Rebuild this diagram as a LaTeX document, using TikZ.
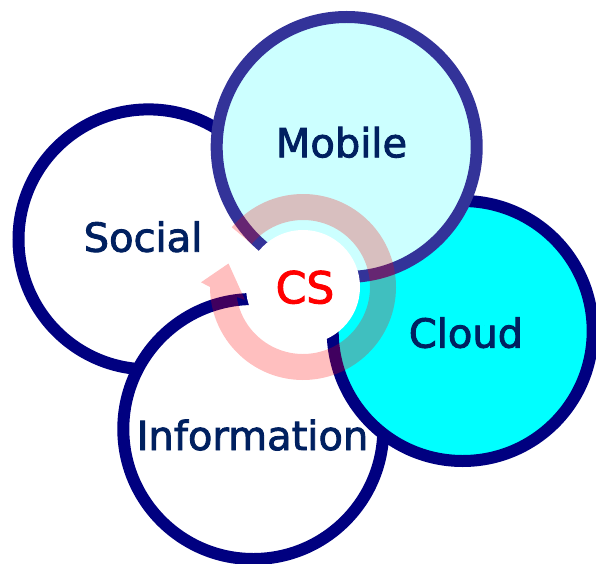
\documentclass[tikz,border=0pt]{standalone}
\usepackage{fontspec}
\setmainfont{DejaVu Sans}
\newfontfamily\lblfont[FakeBold=2.2]{DejaVu Sans}
\usetikzlibrary{calc}
\definecolor{navyc}{RGB}{0,0,128}
\definecolor{mobstroke}{RGB}{51,51,153}
\definecolor{mobfill}{RGB}{204,255,255}
\definecolor{cloudfill}{RGB}{0,255,255}
\definecolor{labelc}{RGB}{0,32,96}
\begin{document}
\begin{tikzpicture}[x=1pt,y=1pt,
  bubble/.style={circle, draw=navyc, line width=12pt, minimum size=260pt, inner sep=0pt, fill=white},
  lbl/.style={font=\lblfont\fontsize{40}{48}\selectfont, text=labelc, anchor=base, inner sep=0pt},
  cycarrow/.style={fill=red, fill opacity=0.25, draw=none}
]
\useasboundingbox (0,0) rectangle (596,563);
\clip (0,0) rectangle (596,563);
\node[bubble] (social) at (148.5,323.6) {};
\node[bubble] (info) at (253.3,134) {};
\node[bubble, fill=cloudfill] (cloud) at (462.7,232) {};
\node[bubble, draw=mobstroke, fill=mobfill] (mobile) at (346.7,416) {};
\node[circle, fill=white, minimum size=114pt, inner sep=0pt] (core) at (303,276) {};
\coordinate (headL) at (201,280.7);
\coordinate (headT) at (228.5,299.5);
\coordinate (headR) at (245,263);
\path[cycarrow] ($(core.center)+(140:93)$) arc[start angle=140, end angle=-180, radius=93]
  -- (headL) -- (headT) -- (headR)
  -- ($(core.center)+(-171.4:67)$) arc[start angle=-171.4, end angle=140, radius=67] -- cycle;
\node[lbl] (tmobile) at (341.5,405.7) {Mobile};
\node[lbl] (tsocial) at (143,311.3) {Social};
\node[lbl] (tinfo) at (252.5,113) {Information};
\node[lbl] (tcloud) at (466,215.4) {Cloud};
\node[lbl, text=red, font=\lblfont\fontsize{44}{52}\selectfont] (tcs) at (305,259.7) {CS};
\end{tikzpicture}
\end{document}
